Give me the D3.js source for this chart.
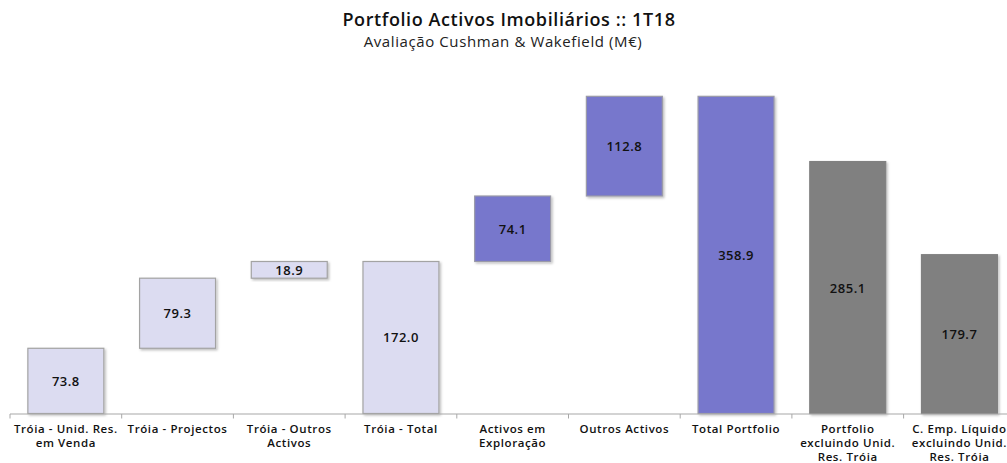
<!DOCTYPE html>
<html><head><meta charset="utf-8">
<script src="https://cdn.jsdelivr.net/npm/d3@7"></script>
<style>
body{margin:0;background:#fff;}
svg{display:block;}
</style></head><body>
<svg id="c" width="1007" height="463"></svg>
<script>
const categories = [
  ["Tróia - Unid. Res.", "em Venda"],
  ["Tróia - Projectos"],
  ["Tróia - Outros", "Activos"],
  ["Tróia - Total"],
  ["Activos em", "Exploração"],
  ["Outros Activos"],
  ["Total Portfolio"],
  ["Portfolio", "excluindo Unid.", "Res. Tróia"],
  ["C. Emp. Líquido", "excluindo Unid.", "Res. Tróia"]
];
const values = [73.8, 79.3, 18.9, 172.0, 74.1, 112.8, 358.9, 285.1, 179.7];
const kinds = ["delta", "delta", "delta", "total", "delta", "delta", "total", "total", "total"];
const groups = ["troia", "troia", "troia", "troia", "other", "other", "other", "excl", "excl"];

const fills = {troia: "#dcdcf1", other: "#7777cc", excl: "#808080"};
const strokes = {troia: "#a3a3a3", other: "#9a9aa8", excl: "#808080"};

let cum = 0;
const bars = values.map((v, i) => {
  let base;
  if (kinds[i] === "delta") { base = cum; cum += v; }
  else { base = 0; }
  return {i, v, base, top: base + v, key: categories[i].join(" "), group: groups[i], lines: categories[i]};
});

const svg = d3.select("#c");
const font = "'Open Sans', sans-serif";

const x = d3.scaleBand().domain(bars.map(d => d.key)).range([10, 1015.3]).paddingInner(0.32).paddingOuter(0.16);
const y = d3.scaleLinear().domain([0, 400]).range([413.5, 60]);

const defs = svg.append("defs");
const f = defs.append("filter").attr("id", "sh").attr("x", "-10%").attr("y", "-10%").attr("width", "130%").attr("height", "130%");
f.append("feDropShadow").attr("dx", 1.5).attr("dy", 1.5).attr("stdDeviation", 1.2).attr("flood-color", "#000").attr("flood-opacity", 0.25);

svg.append("text").attr("x", 509).attr("y", 26).attr("text-anchor", "middle")
  .style("font-family", font).style("font-weight", 600).style("font-size", "18px").style("letter-spacing", "0.6px").attr("fill", "#111")
  .text("Portfolio Activos Imobiliários :: 1T18");
svg.append("text").attr("x", 503).attr("y", 47).attr("text-anchor", "middle")
  .style("font-family", font).style("font-size", "15px").style("letter-spacing", "0.6px").attr("fill", "#222")
  .text("Avaliação Cushman & Wakefield (M€)");

svg.append("g").selectAll("rect").data(bars).join("rect")
  .attr("x", d => x(d.key))
  .attr("y", d => y(d.top))
  .attr("width", x.bandwidth())
  .attr("height", d => y(d.base) - y(d.top))
  .attr("fill", d => fills[d.group])
  .attr("stroke", d => strokes[d.group])
  .attr("stroke-width", 1.2)
  .attr("filter", "url(#sh)");

svg.append("g").selectAll("text").data(bars).join("text")
  .attr("x", d => x(d.key) + x.bandwidth() / 2)
  .attr("y", d => (y(d.base) + y(d.top)) / 2 + 5)
  .attr("text-anchor", "middle")
  .style("font-family", font).style("font-weight", 600).style("font-size", "13px").style("letter-spacing", "0.5px")
  .attr("fill", "#111")
  .text(d => d.v.toFixed(1));

const step = x.step();
const ax = svg.append("g");
ax.append("line").attr("x1", 10).attr("x2", 1007).attr("y1", 414).attr("y2", 414)
  .attr("stroke", "#a8a8a8").attr("stroke-width", 1.2);
const bounds = d3.range(categories.length + 1).map(i => x.range()[0] + i * step);
ax.selectAll("line.t").data(bounds).join("line").attr("class", "t")
  .attr("x1", d => d).attr("x2", d => d).attr("y1", 414).attr("y2", 418.5)
  .attr("stroke", "#a8a8a8").attr("stroke-width", 1);

const lbl = ax.selectAll("text.l").data(bars).join("text").attr("class", "l")
  .attr("text-anchor", "middle")
  .style("font-family", font).style("font-weight", 600).style("font-size", "11.5px").style("letter-spacing", "0.6px")
  .attr("fill", "#111");
lbl.each(function(d) {
  const t = d3.select(this);
  d.lines.forEach((ln, j) => {
    t.append("tspan").attr("x", x(d.key) + x.bandwidth() / 2).attr("y", 433 + j * 14).text(ln);
  });
});
</script>
</body></html>
